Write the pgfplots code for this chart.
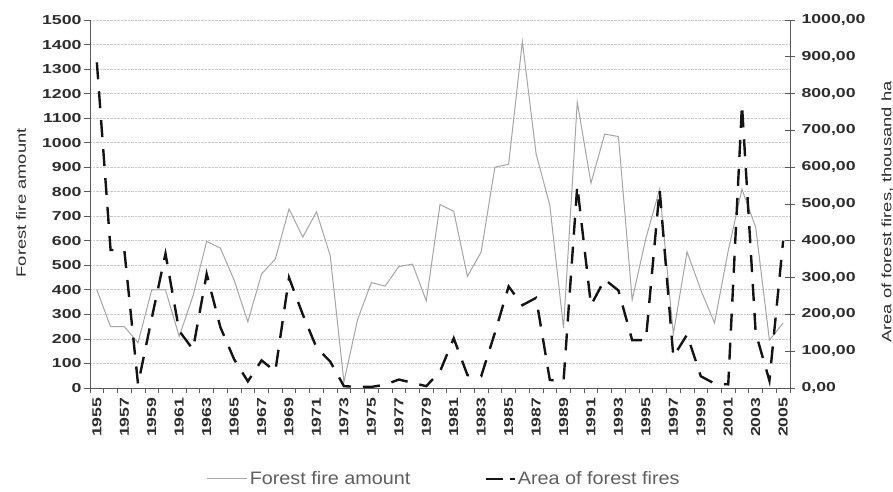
\documentclass[border=0pt]{standalone}
\usepackage{fontspec}
\setmainfont{Liberation Sans}
\newfontfamily\tickfont[FakeStretch=1.36]{Liberation Sans}
\newfontfamily\legfont[FakeStretch=1.1]{Liberation Sans}
\usepackage{pgfplots}
\pgfplotsset{compat=1.18}
\usepackage{pgfplotstable}

\definecolor{graylinec}{RGB}{165,165,165}
\definecolor{dashc}{RGB}{20,20,20}
\definecolor{axisc}{RGB}{90,90,90}
\definecolor{gridc}{RGB}{200,200,200}
\definecolor{textc}{RGB}{45,45,45}
\definecolor{legc}{RGB}{95,95,95}

\pgfplotstableread{
i amount area
0 400 885
1 250 375
2 250 375
3 185 10
4 400 190
5 400 365
6 210 155
7 375 105
8 598 310
9 570 165
10 440 78
11 270 18
12 465 75
13 525 45
14 730 300
15 615 200
16 718 110
17 540 72
18 25 5
19 280 3
20 430 3
21 415 9
22 495 23
23 505 14
24 355 5
25 748 45
26 720 135
27 455 35
28 555 32
29 900 150
30 912 276
31 1412 225
32 955 245
33 745 22
34 245 18
35 1165 550
36 835 225
37 1035 295
38 1025 265
39 360 130
40 610 130
41 810 540
42 220 85
43 555 145
44 400 32
45 265 12
46 560 10
47 810 770
48 655 150
49 195 20
50 265 400
}\data

\begin{document}
\begin{tikzpicture}[x=1pt,y=1pt]
\path[use as bounding box] (-90,-103) rectangle (803,388);
\begin{axis}[
  at={(0,0)}, anchor=south west,
  width=700pt, height=368pt, scale only axis,
  xmin=-0.5, xmax=50.5, ymin=0, ymax=1500,
  axis x line*=bottom, axis y line*=left,
  axis line style={axisc, line width=0.8pt},
  ytick={0,100,...,1500},
  xtick={0,2,...,50},
  xticklabel={\pgfmathtruncatemacro{\yr}{1955+\tick}\yr},
  minor xtick={-0.5,0.5,...,50.5},
  every major x tick/.append style={draw=none},
  tick align=outside,
  major tick length=6pt, minor tick length=5pt,
  tick style={axisc, line width=0.8pt},
  ymajorgrids, grid style={gridc, densely dotted, line width=0.8pt},
  /pgf/number format/assume math mode=true,
  /pgf/number format/1000 sep={},
  tick label style={font=\tickfont\bfseries\fontsize{13}{13}\selectfont, text=textc},
  yticklabel style={xshift=1pt},
  xticklabel style={rotate=90, anchor=east},
  ylabel={Forest fire amount},
  ylabel style={at={(axis description cs:-0.0986,0.503)}, anchor=center, font=\tickfont\fontsize{13.5}{13.5}\selectfont, text=textc},
]
\addplot[graylinec, line width=1pt, mark=none] table[x=i,y=amount]{\data};
\end{axis}
\begin{axis}[
  at={(0,0)}, anchor=south west,
  width=700pt, height=368pt, scale only axis,
  xmin=-0.5, xmax=50.5, ymin=0, ymax=1000,
  axis x line=none, axis y line*=right,
  axis line style={axisc, line width=0.8pt},
  ytick={0,100,...,1000},
  tick align=center, major tick length=10pt,
  tick style={axisc, line width=0.8pt},
  /pgf/number format/assume math mode=true,
  y tick label style={/pgf/number format/fixed, /pgf/number format/fixed zerofill, /pgf/number format/precision=2, /pgf/number format/use comma, /pgf/number format/1000 sep={}},
  tick label style={font=\tickfont\bfseries\fontsize{13}{13}\selectfont, text=textc},
  yticklabel style={xshift=3pt},
  ylabel={Area of forest fires, thousand ha},
  ylabel style={at={(axis description cs:1.139,0.478)}, anchor=center, font=\tickfont\fontsize{13.5}{13.5}\selectfont, text=textc},
  legend style={at={(axis description cs:0.506,-0.247)}, anchor=center, draw=none, fill=none, legend columns=2, font=\legfont\fontsize{18}{18}\selectfont, text=legc, /tikz/every even column/.append style={column sep=72pt}, inner sep=0pt},
  legend cell align=left,
]
\addlegendimage{graylinec, line width=1pt, legend image code/.code={\draw[graylinec, line width=1pt] (0pt,0pt) -- (40pt,0pt);}}
\addlegendentry{Forest fire amount}
\addlegendimage{dashc, line width=2.4pt, legend image code/.code={\draw[dashc, line width=2.4pt, dash pattern=on 17pt off 7pt on 5pt off 7pt] (0pt,0pt) -- (29pt,0pt);}}
\addlegendentry{Area of forest fires}
\addplot[dashc, line width=2.4pt, mark=none, dash pattern=on 17pt off 12pt, forget plot] table[x=i,y=area]{\data};
\node[anchor=west, font=\legfont\bfseries\fontsize{14}{14}\selectfont, text=textc] at (axis description cs:1.007,-0.110) {Years};
\end{axis}
\end{tikzpicture}
\end{document}
